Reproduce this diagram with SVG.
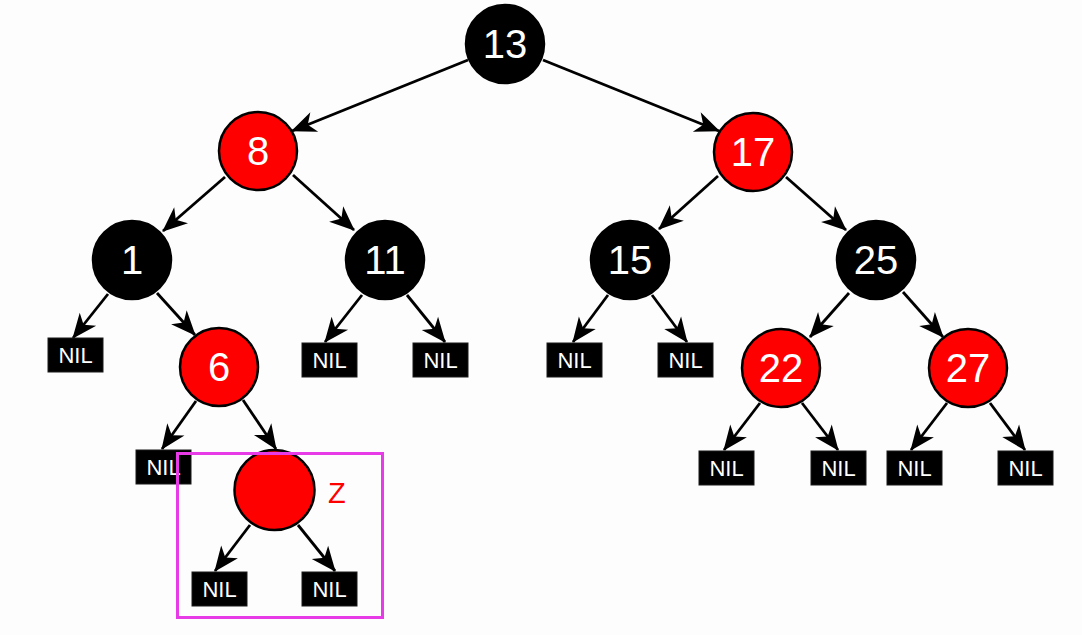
<svg xmlns="http://www.w3.org/2000/svg" width="1082" height="635" viewBox="0 0 1082 635">
<defs>
<style>
.bg{fill:#fdfdfd}
.red circle{fill:#fe0000;stroke:#000;stroke-width:2.5}
.blk circle{fill:#000;stroke:#000;stroke-width:2.5}
.lbl{font-family:"Liberation Sans",Arial,sans-serif;font-size:40px;fill:#fff;text-anchor:middle}
.nil rect{fill:#000;stroke:#1a1a1a;stroke-width:1}
.nil text{font-family:"Liberation Sans",Arial,sans-serif;font-size:22px;fill:#fff;text-anchor:middle}
.edge{stroke:#000;stroke-width:2.8;fill:none;marker-end:url(#arr)}
</style>
<marker id="arr" markerUnits="userSpaceOnUse" viewBox="-27 -13 29 26" refX="0" refY="0" markerWidth="29" markerHeight="26" orient="auto">
<path d="M1,0 L-24,-10.5 L-17,0 L-24,10.5 Z" fill="#000"/>
</marker>
</defs>
<rect class="bg" x="0" y="0" width="1082" height="635"/>
<g id="connectors">
<line class="edge" x1="468" y1="60" x2="292" y2="131"/>
<line class="edge" x1="543" y1="60" x2="719" y2="131"/>
<line class="edge" x1="225" y1="177" x2="163" y2="231"/>
<line class="edge" x1="293" y1="175" x2="354" y2="230"/>
<line class="edge" x1="718" y1="176" x2="659" y2="229"/>
<line class="edge" x1="786" y1="177" x2="846" y2="230"/>
<line class="edge" x1="108" y1="294" x2="73" y2="338"/>
<line class="edge" x1="157" y1="293" x2="195" y2="335"/>
<line class="edge" x1="362" y1="295" x2="325" y2="342"/>
<line class="edge" x1="407" y1="295" x2="445" y2="342"/>
<line class="edge" x1="608" y1="295" x2="573" y2="342"/>
<line class="edge" x1="652" y1="295" x2="687" y2="342"/>
<line class="edge" x1="849" y1="293" x2="810" y2="337"/>
<line class="edge" x1="903" y1="292" x2="943" y2="337"/>
<line class="edge" x1="760" y1="403" x2="724" y2="450"/>
<line class="edge" x1="802" y1="403" x2="838" y2="450"/>
<line class="edge" x1="947" y1="403" x2="911" y2="450"/>
<line class="edge" x1="990" y1="403" x2="1025" y2="450"/>
<line class="edge" x1="196" y1="401" x2="162" y2="449"/>
<line class="edge" x1="243" y1="400" x2="276" y2="449"/>
<line class="edge" x1="250" y1="525" x2="215" y2="571"/>
<line class="edge" x1="298" y1="525" x2="335" y2="571"/>
</g>
<g id="n13" class="blk"><circle cx="505" cy="44" r="39"/><text class="lbl" x="505" y="58">13</text></g>
<g id="n8" class="red"><circle cx="258" cy="151" r="39"/><text class="lbl" x="258" y="165">8</text></g>
<g id="n17" class="red"><circle cx="753" cy="152" r="39"/><text class="lbl" x="753" y="166">17</text></g>
<g id="n1" class="blk"><circle cx="132" cy="260" r="39"/><text class="lbl" x="132" y="274">1</text></g>
<g id="n11" class="blk"><circle cx="385" cy="260" r="39"/><text class="lbl" x="385" y="274">11</text></g>
<g id="n15" class="blk"><circle cx="630" cy="260" r="39"/><text class="lbl" x="630" y="274">15</text></g>
<g id="n25" class="blk"><circle cx="876" cy="260" r="39"/><text class="lbl" x="876" y="274">25</text></g>
<g id="n6" class="red"><circle cx="219" cy="367" r="39"/><text class="lbl" x="219" y="381">6</text></g>
<g id="n22" class="red"><circle cx="781" cy="368" r="39"/><text class="lbl" x="781" y="382">22</text></g>
<g id="n27" class="red"><circle cx="968" cy="368" r="39"/><text class="lbl" x="968" y="382">27</text></g>
<g id="nZ" class="red"><circle cx="274.5" cy="490" r="40"/></g>
<g id="nil1" class="nil"><rect x="48" y="338" width="55" height="34"/><text x="75.5" y="363">NIL</text></g>
<g id="nil11L" class="nil"><rect x="302" y="343" width="55" height="34"/><text x="329.5" y="368">NIL</text></g>
<g id="nil11R" class="nil"><rect x="413" y="343" width="55" height="34"/><text x="440.5" y="368">NIL</text></g>
<g id="nil15L" class="nil"><rect x="547" y="343" width="55" height="34"/><text x="574.5" y="368">NIL</text></g>
<g id="nil15R" class="nil"><rect x="658" y="343" width="55" height="34"/><text x="685.5" y="368">NIL</text></g>
<g id="nil6L" class="nil"><rect x="136" y="450" width="55" height="34"/><text x="163.5" y="475">NIL</text></g>
<g id="nil22L" class="nil"><rect x="699" y="451" width="55" height="34"/><text x="726.5" y="476">NIL</text></g>
<g id="nil22R" class="nil"><rect x="811" y="451" width="55" height="34"/><text x="838.5" y="476">NIL</text></g>
<g id="nil27L" class="nil"><rect x="887" y="451" width="55" height="34"/><text x="914.5" y="476">NIL</text></g>
<g id="nil27R" class="nil"><rect x="998" y="451" width="55" height="34"/><text x="1025.5" y="476">NIL</text></g>
<g id="nilZL" class="nil"><rect x="192" y="572" width="55" height="34"/><text x="219.5" y="597">NIL</text></g>
<g id="nilZR" class="nil"><rect x="302" y="572" width="55" height="34"/><text x="329.5" y="597">NIL</text></g>
<g id="highlight"><rect x="177.5" y="453.5" width="205" height="164" fill="none" stroke="#e83be8" stroke-width="3"/></g>
<text id="zlabel" x="328" y="503" font-family="'Liberation Sans',Arial,sans-serif" font-size="29" fill="#fe0000">Z</text>
</svg>
